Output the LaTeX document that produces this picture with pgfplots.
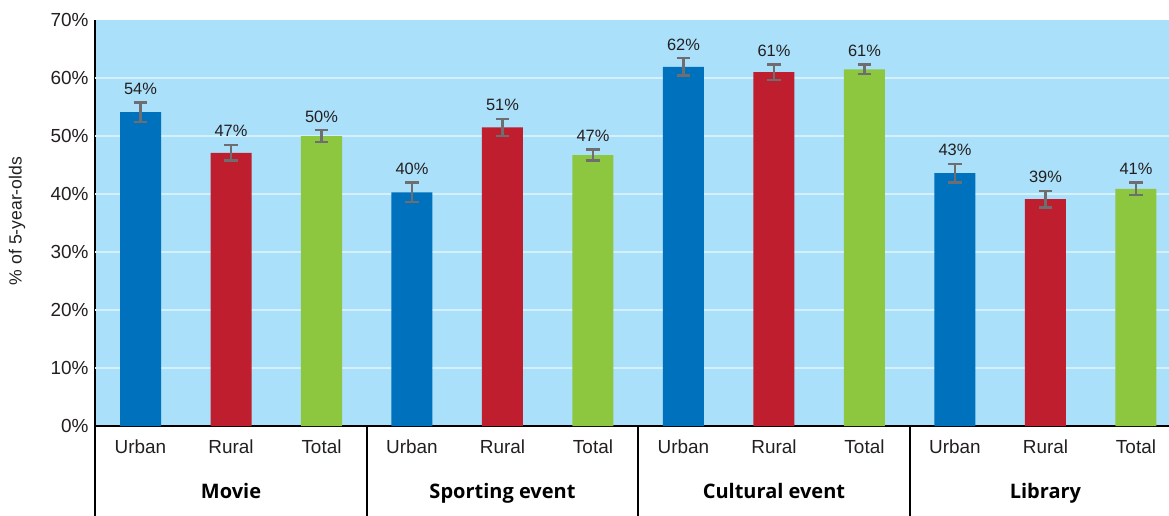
\documentclass[border=0pt]{standalone}
\usepackage{fontspec}
\setmainfont{Liberation Sans}
\newfontfamily\groupfont{Open Sans}
\usepackage{pgfplots}
\pgfplotsset{compat=1.18}

\definecolor{skyback}{RGB}{171,224,250}
\definecolor{gridline}{RGB}{212,240,253}
\definecolor{urbanblue}{RGB}{0,113,188}
\definecolor{ruralred}{RGB}{190,30,45}
\definecolor{totalgreen}{RGB}{141,198,63}
\definecolor{errgray}{RGB}{110,110,113}
\definecolor{textgray}{RGB}{35,31,32}

\begin{document}
\begin{tikzpicture}
\begin{axis}[
name=ax,
scale only axis,
width=805.3pt, height=304.5pt,
xmin=-0.5, xmax=11.365,
ymin=0, ymax=70,
ybar, bar width=30.75pt, bar shift=0pt,
axis x line*=bottom, axis y line*=left,
axis line style={line width=1.5pt, black},
axis background/.style={fill=skyback},
ytick={0,10,...,70},
yticklabel={\pgfmathprintnumber{\tick}\%},
extra y ticks={10,20,...,60},
extra y tick labels={},
extra y tick style={grid=major, grid style={line width=1.5pt, gridline}},
major tick length=0pt,
xtick={0,...,11},
xticklabels={Urban,Rural,Total,Urban,Rural,Total,Urban,Rural,Total,Urban,Rural,Total},
ticklabel style={font=\fontsize{14.2}{16}\selectfont, text=textgray},
/pgf/number format/assume math mode=true,
xticklabel style={anchor=center, yshift=-15.75pt},
yticklabel style={xshift=-1.5pt},
ylabel={\% of 5-year-olds},
ylabel style={at={(axis description cs:-0.0729,0.505)}, anchor=center, font=\fontsize{13.2}{15}\selectfont, text=textgray},
error bars/y dir=both,
error bars/y explicit,
error bars/error bar style={line width=1.8pt, errgray},
error bars/error mark options={line width=1.8pt, errgray, mark size=5pt, rotate=90},
clip=false,
]
% Urban
\addplot[fill=urbanblue, draw=none] coordinates {
(0,54.1) +- (0,1.65)
(3,40.3) +- (0,1.65)
(6,61.9) +- (0,1.5)
(9,43.6) +- (0,1.6)
};
% Rural
\addplot[fill=ruralred, draw=none] coordinates {
(1,47.1) +- (0,1.35)
(4,51.5) +- (0,1.45)
(7,61.0) +- (0,1.3)
(10,39.1) +- (0,1.45)
};
% Total
\addplot[fill=totalgreen, draw=none] coordinates {
(2,50.0) +- (0,1.0)
(5,46.7) +- (0,0.95)
(8,61.5) +- (0,0.85)
(11,40.9) +- (0,1.1)
};
% value labels, set just above the error bars
\addplot[draw=none, fill=none, error bars/y dir=none,
  nodes near coords, point meta=explicit symbolic,
  every node near coord/.append style={anchor=base, yshift=6pt, inner sep=0pt,
    font=\fontsize{12.3}{14}\selectfont, text=textgray}]
coordinates {
(0,55.75) [54\%]
(1,48.45) [47\%]
(2,51.0) [50\%]
(3,41.95) [40\%]
(4,52.95) [51\%]
(5,47.65) [47\%]
(6,63.4) [62\%]
(7,62.3) [61\%]
(8,62.35) [61\%]
(9,45.2) [43\%]
(10,40.55) [39\%]
(11,42.0) [41\%]
};
% group dividers and group names
\draw[line width=1.5pt, black] (axis cs:-0.5,0) -- ++(0pt,-70pt);
\draw[line width=1.5pt, black] (axis cs:2.5,0) -- ++(0pt,-70pt);
\draw[line width=1.5pt, black] (axis cs:5.5,0) -- ++(0pt,-70pt);
\draw[line width=1.5pt, black] (axis cs:8.5,0) -- ++(0pt,-70pt);
\node[anchor=base, font=\groupfont\bfseries\fontsize{15}{18}\selectfont] at ([yshift=-54pt]axis cs:1,0) {Movie};
\node[anchor=base, font=\groupfont\bfseries\fontsize{15}{18}\selectfont] at ([yshift=-54pt]axis cs:4,0) {Sporting event};
\node[anchor=base, font=\groupfont\bfseries\fontsize{15}{18}\selectfont] at ([yshift=-54pt]axis cs:7,0) {Cultural event};
\node[anchor=base, font=\groupfont\bfseries\fontsize{15}{18}\selectfont] at ([yshift=-54pt]axis cs:10,0) {Library};
\end{axis}
\pgfresetboundingbox
\useasboundingbox ([xshift=-71.44pt, yshift=-66.75pt]ax.south west) rectangle ([yshift=15pt]ax.north east);
\end{tikzpicture}
\end{document}
